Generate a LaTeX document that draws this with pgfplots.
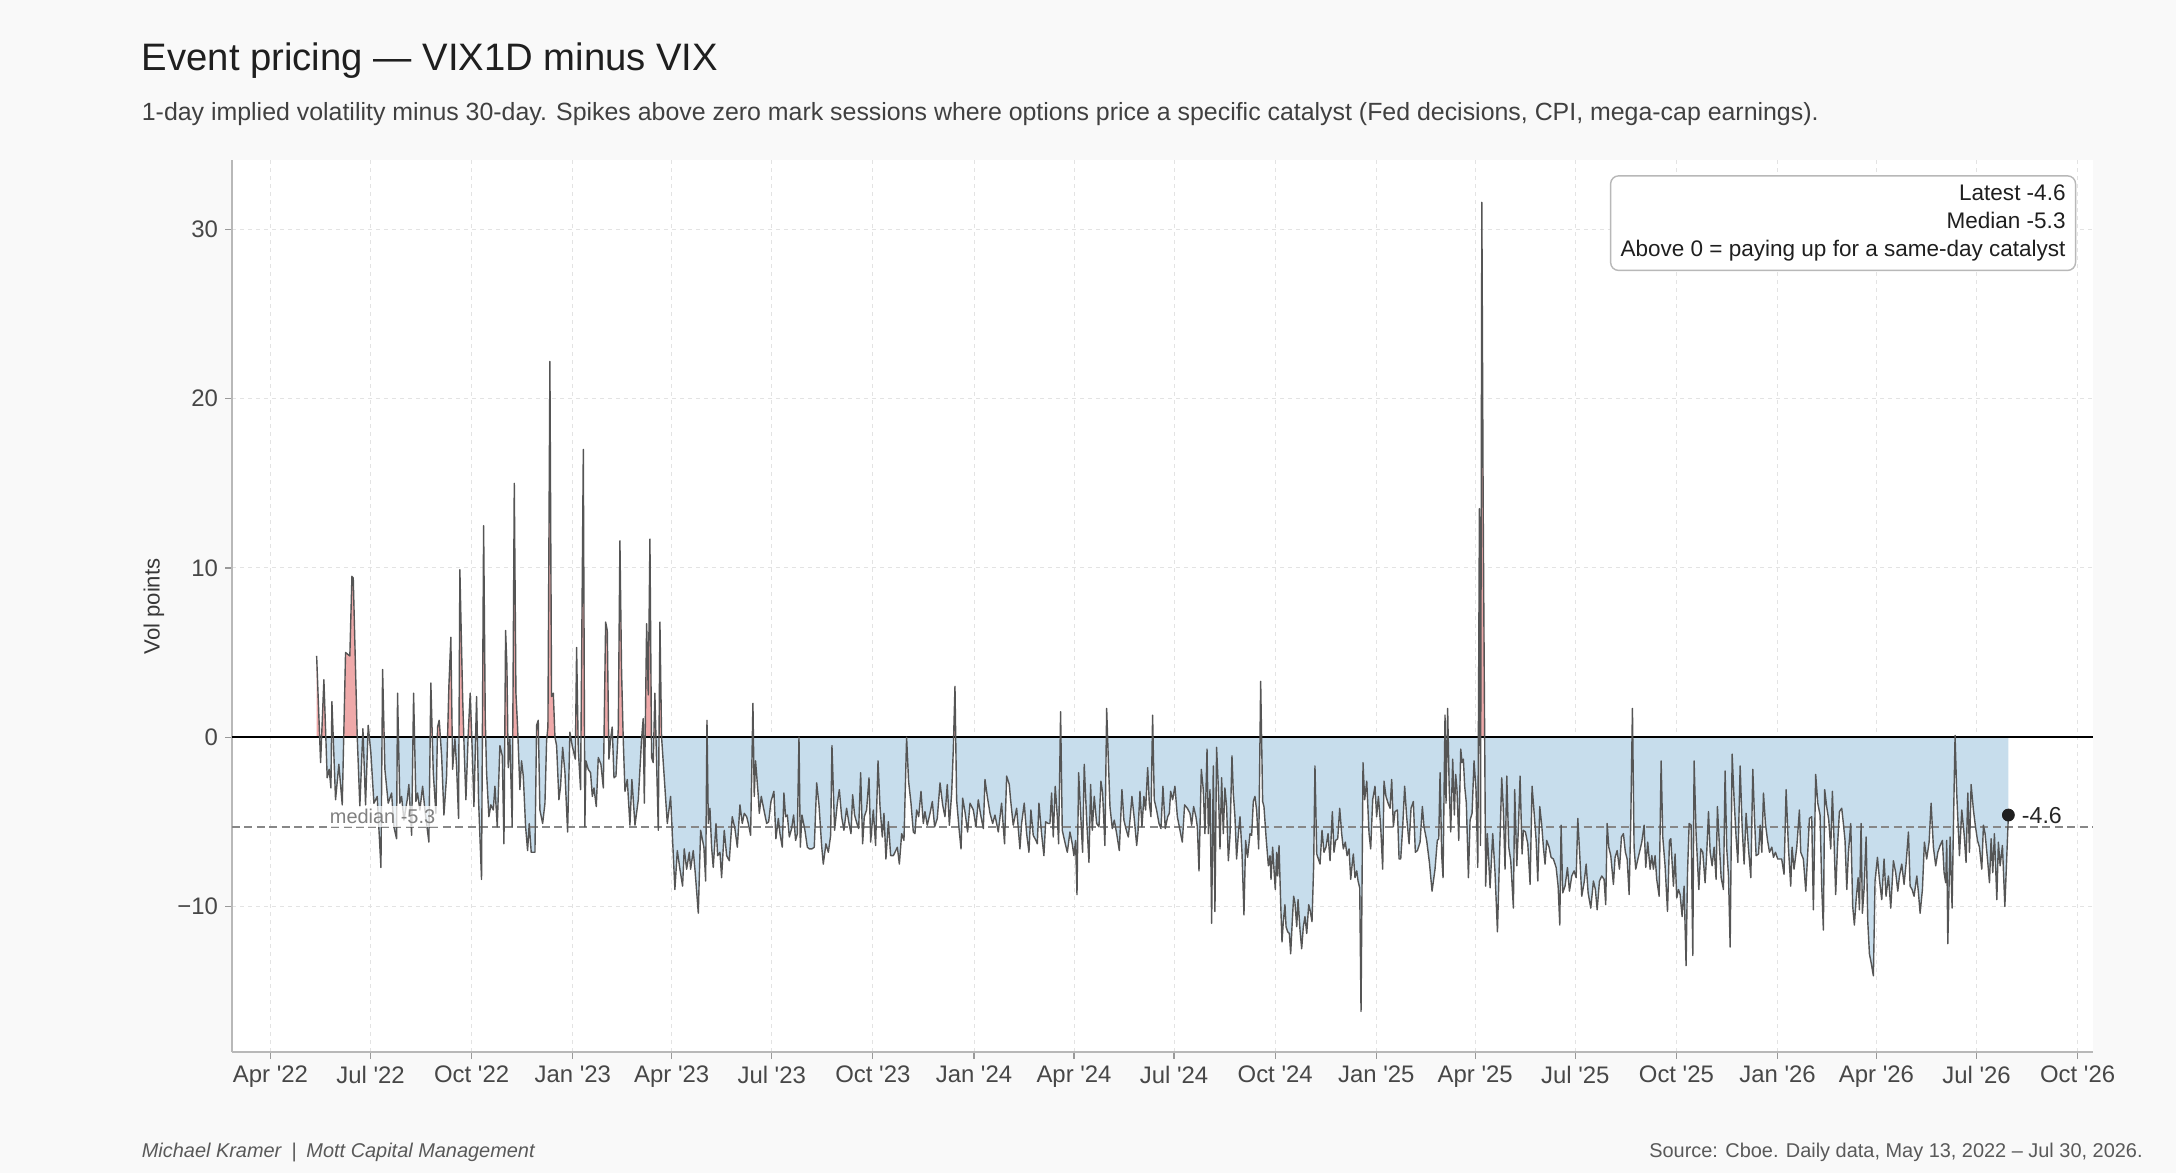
\documentclass[border=0pt]{standalone}
\usepackage{pgfplots}
\pgfplotsset{compat=1.18}
\usepackage{pgfplotstable}
\usepackage{fontspec}
\setmainfont{Liberation Sans}
\newfontfamily\tk{Liberation Sans}
\definecolor{bgc}{HTML}{F9F9F9}
\definecolor{bluefill}{RGB}{199,221,236}
\definecolor{redfill}{RGB}{239,169,169}
\definecolor{linec}{HTML}{555555}
\pagecolor{bgc}

\pgfplotsset{
  base/.style={anchor=south west, width=930.5bp, scale only axis, xmin=-35, xmax=1658},
  xt/.style={xtick={0,91,183,275,365,456,548,640,731,822,914,1006,1096,1187,1279,1371,1461,1552,1644}, ytick={-10,0,10,20,30}},
}

\pgfplotstableread{
x y
42 4.8
45.6 -1.5
48.6 3.4
51.6 -2.4
53.4 -1.9
55.0 -3.0
55.9 2.1
59.2 -3.7
62.2 -1.6
65.3 -4.0
68.3 5.0
72.2 4.8
74.1 9.5
75.3 9.4
78.9 0.1
81.3 -4.1
84.1 0.5
86.5 -4.0
88.9 0.7
91.3 -0.9
94.1 -3.9
97.1 -3.5
100.5 -7.7
102.0 4.0
104.1 -1.9
107.1 -3.9
110.2 -3.3
112.3 -5.3
114.7 -6.0
115.6 2.6
117.7 -3.9
119.3 -3.5
121.4 -4.9
124.4 -3.7
125.9 -2.8
128.4 -5.8
130.2 2.6
132.3 -3.8
133.8 -3.3
135.9 -4.3
138.4 -2.9
140.5 -4.3
144.1 -6.2
145.9 3.2
148.1 -2.1
150.5 -4.5
152.0 0.6
153.5 1.0
155.7 -1.1
157.8 -4.6
160.2 -2.3
162.3 3.0
164.1 5.9
165.7 -1.9
167.8 -0.1
169.3 -1.7
171.1 -4.8
172.3 9.9
174.8 2.4
176.3 -0.9
177.8 -3.7
179.9 0.2
181.7 2.6
183.6 -0.9
185.1 -4.1
187.5 2.4
189.3 -3.7
192.0 -8.4
193.9 12.5
195.4 1.1
196.6 -2.1
198.7 -4.7
200.5 -4.0
202.7 -4.3
204.2 -2.9
206.3 -5.3
208.7 -0.5
210.9 -1.1
212.4 -6.3
213.9 6.3
215.1 4.2
216.3 -1.8
217.8 -0.1
219.9 -5.3
221.8 15.0
223.3 2.6
224.8 0.6
226.9 -3.1
228.4 -1.4
230.0 -2.3
232.1 -5.3
233.9 -6.7
235.4 -5.1
237.2 -6.8
238.4 -6.8
240.6 -6.8
242.1 0.7
243.6 1.0
245.1 -4.3
247.6 -5.1
249.7 -3.9
251.2 -0.2
252.4 0.6
254.2 22.2
255.7 2.4
257.3 2.6
258.8 0.0
260.3 -0.5
262.4 -3.7
263.9 -2.9
265.8 -0.6
267.9 -2.1
270.3 -5.6
272.4 0.3
274.5 -0.5
277.3 -1.3
278.5 5.3
280.0 -0.7
282.1 -3.1
284.6 17.0
286.0 -5.3
287.0 -1.4
289.1 -1.9
291.2 -2.1
292.8 -3.5
294.3 -3.0
296.4 -4.1
298.2 -1.2
300.6 -1.6
302.8 -3.0
304.9 6.8
306.4 6.3
307.9 -1.3
309.4 -0.1
310.9 0.6
312.5 -2.4
314.3 -2.3
316.4 0.5
317.9 11.6
319.4 3.9
320.9 -0.1
322.5 -3.2
324.6 -2.5
327.0 -5.2
328.8 -2.5
331.6 -5.2
334.6 -3.7
337.6 -0.1
339.1 1.1
340.1 -3.9
342.2 6.7
343.7 2.5
345.2 11.7
346.7 -1.2
348.2 -1.5
349.7 2.6
352.8 -5.5
354.3 6.8
355.8 0.0
361.0 -5.1
364.0 -3.5
367.9 -9.0
370.1 -6.7
372.5 -7.8
374.9 -8.8
376.4 -6.6
378.6 -7.8
381.0 -6.8
382.2 -7.8
384.6 -6.7
386.4 -8.0
389.2 -10.4
391.3 -5.5
394.3 -6.5
395.9 -8.5
397.1 1.0
398.3 -5.1
399.8 -4.2
401.3 -6.5
402.8 -7.7
405.3 -5.1
406.8 -7.0
408.9 -6.8
410.4 -8.3
412.8 -5.5
415.0 -7.0
417.4 -7.3
420.1 -4.7
422.5 -5.4
424.7 -6.5
427.1 -4.0
429.2 -5.1
431.0 -4.5
433.2 -4.7
434.7 -5.1
436.8 -5.8
438.9 2.0
440.1 -3.5
441.3 -1.4
443.8 -3.5
444.7 -4.5
446.5 -3.5
448.9 -4.3
451.4 -5.1
453.2 -5.0
455.3 -3.8
458.0 -3.2
459.8 -6.0
462.0 -4.8
463.5 -5.7
465.6 -6.5
467.1 -3.3
468.6 -4.7
470.2 -4.6
472.0 -5.9
474.1 -5.4
475.9 -4.6
477.7 -6.1
479.3 -5.7
480.8 0.0
482.0 -6.5
483.5 -4.6
486.2 -5.5
488.4 -6.5
490.2 -6.6
492.6 -6.6
494.7 -6.5
496.9 -2.7
499.0 -4.0
501.4 -6.4
502.9 -7.5
505.3 -6.3
507.5 -6.8
509.6 -5.8
510.8 -0.5
513.2 -5.5
515.7 -3.9
517.5 -3.1
519.6 -4.7
521.7 -5.5
524.1 -4.2
526.3 -5.1
528.1 -5.7
529.6 -3.4
531.4 -4.6
533.5 -5.1
535.1 -5.4
536.9 -2.1
538.7 -6.3
540.2 -4.7
542.3 -4.3
544.5 -2.4
546.0 -6.2
548.4 -4.3
550.5 -6.4
552.7 -1.4
554.5 -4.1
556.6 -5.9
558.1 -4.5
559.9 -7.2
562.1 -5.0
564.2 -7.0
566.6 -7.0
568.1 -6.8
570.3 -6.5
572.1 -7.5
574.2 -5.7
576.3 -6.1
578.7 0.0
580.5 -2.6
582.7 -3.9
584.8 -5.6
586.3 -5.7
587.8 -4.3
589.7 -4.7
591.8 -3.2
593.9 -5.1
595.4 -4.4
597.5 -5.2
600.0 -4.5
602.1 -3.8
604.2 -5.3
606.6 -4.8
609.1 -2.7
611.5 -4.0
613.6 -4.7
615.7 -2.8
617.6 -5.2
619.7 -3.3
621.2 -0.7
622.7 3.0
624.2 -3.7
626.4 -5.4
628.2 -6.6
629.7 -3.6
631.8 -4.4
634.2 -5.6
636.4 -3.9
639.4 -4.3
641.8 -5.3
643.9 -3.7
646.1 -4.6
648.5 -5.4
650.0 -2.5
652.1 -3.5
654.6 -4.5
657.0 -5.1
659.1 -4.6
662.1 -5.6
665.1 -3.9
667.8 -6.3
669.7 -2.3
672.1 -2.8
673.3 -3.7
675.7 -5.2
678.8 -4.2
681.8 -6.6
683.3 -5.1
685.7 -3.9
687.9 -5.7
690.0 -6.8
691.8 -4.3
693.9 -5.8
696.4 -6.1
697.6 -6.3
699.1 -3.9
701.5 -5.7
703.6 -7.0
705.2 -5.0
707.6 -5.1
709.1 -5.1
710.6 -3.3
712.1 -5.9
713.9 -2.9
715.8 -4.7
717.0 -6.3
718.8 1.5
720.3 -5.5
722.7 -6.2
724.9 -6.8
727.3 -5.6
729.4 -6.3
730.9 -7.0
732.4 -6.1
733.7 -9.3
735.2 -2.1
737.3 -4.9
738.8 -6.8
740.3 -1.6
742.5 -4.9
744.6 -7.4
746.1 -2.8
747.6 -5.5
749.4 -3.5
751.6 -5.1
753.7 -5.3
755.5 -2.6
757.0 -3.3
759.1 -6.4
760.7 1.7
762.2 -1.3
763.7 -4.1
765.8 -5.4
767.6 -4.9
769.8 -5.7
772.2 -6.7
774.6 -3.1
776.4 -4.9
778.2 -5.4
780.4 -5.9
781.9 -4.9
783.7 -3.5
785.8 -4.8
788.0 -6.4
789.2 -5.6
791.0 -3.2
792.8 -5.3
794.6 -3.5
796.1 -4.3
798.0 -1.8
799.5 -3.9
801.0 -4.7
802.5 1.3
804.0 -3.7
806.1 -4.3
808.3 -5.1
810.1 -5.4
811.9 -2.9
814.0 -5.4
816.2 -4.7
817.7 -4.5
818.9 -3.2
820.7 -3.7
822.8 -2.9
825.0 -4.7
827.4 -5.5
829.5 -6.2
831.6 -4.0
834.1 -4.2
836.5 -4.5
838.0 -5.2
839.8 -4.1
841.9 -4.7
843.2 -5.3
844.7 -7.9
846.8 -1.9
848.6 -3.1
850.1 -5.7
852.0 -0.7
853.2 -5.7
854.7 -3.1
856.2 -11.0
857.7 -1.7
859.2 -10.3
860.7 -0.6
862.3 -3.0
863.8 -6.6
865.3 -2.4
866.8 -5.7
868.3 -3.0
869.8 -4.1
871.4 -7.3
872.9 -5.8
874.7 -1.1
875.9 -3.3
877.4 -4.7
878.9 -7.2
880.5 -5.7
882.0 -4.7
883.8 -6.8
885.6 -10.5
887.1 -6.1
888.9 -7.1
891.1 -5.7
892.6 -5.8
894.1 -3.8
895.6 -3.5
897.1 -4.3
899.0 -6.6
900.8 3.3
902.6 -3.8
903.8 -4.1
905.7 -5.9
907.8 -7.6
909.3 -7.0
910.2 -8.4
911.7 -6.5
912.9 -7.8
914.1 -9.0
915.4 -6.8
916.3 -8.2
917.5 -6.4
919.0 -9.8
920.2 -12.1
921.4 -10.9
922.9 -9.9
923.9 -11.2
925.4 -11.5
926.9 -11.6
928.1 -12.8
929.6 -10.8
930.8 -9.4
932.0 -9.8
933.6 -11.2
934.8 -9.6
936.6 -11.4
938.1 -12.5
939.6 -11.2
941.1 -10.6
942.7 -11.6
944.5 -9.9
945.7 -10.2
947.5 -10.9
949.0 -7.6
950.2 -1.7
951.8 -6.9
953.3 -7.2
954.8 -7.5
956.6 -5.5
958.4 -6.8
960.2 -6.5
962.1 -5.7
963.9 -7.3
966.0 -4.4
967.5 -6.8
969.0 -6.1
970.9 -6.0
972.7 -4.2
974.5 -5.7
976.0 -6.6
977.8 -6.2
979.4 -7.0
981.2 -6.6
982.7 -8.4
983.9 -7.6
985.1 -6.9
986.6 -8.3
988.2 -7.9
989.4 -8.5
990.9 -8.9
992.1 -16.2
993.9 -1.5
995.4 -3.7
997.3 -2.6
999.4 -5.7
1000.9 -6.6
1002.7 -3.7
1004.8 -2.9
1006.3 -4.7
1007.9 -3.5
1010.0 -5.3
1011.8 -7.8
1013.0 -2.6
1014.8 -3.5
1016.7 -3.9
1018.5 -4.2
1020.0 -2.5
1021.5 -5.3
1023.0 -4.4
1025.2 -4.3
1026.7 -7.2
1028.2 -7.2
1030.0 -5.3
1031.8 -2.9
1033.6 -4.7
1035.8 -6.3
1037.6 -4.2
1039.7 -3.8
1041.5 -6.8
1043.4 -6.7
1045.8 -6.2
1047.9 -4.1
1049.4 -5.3
1051.8 -6.1
1054.3 -7.4
1056.7 -9.1
1059.4 -7.8
1061.5 -6.1
1062.8 -6.0
1064.0 -2.1
1065.5 -7.0
1066.7 -8.3
1068.5 1.3
1069.4 -3.9
1070.9 1.7
1072.2 -2.7
1073.7 -5.6
1075.5 -1.3
1077.0 -4.6
1078.2 -2.2
1079.4 -3.1
1081.0 -6.1
1082.8 -0.7
1084.0 -1.5
1085.2 -1.3
1086.4 -2.9
1087.9 -3.9
1089.8 -8.3
1091.3 -4.9
1093.1 -4.5
1094.9 -1.4
1096.7 -3.1
1098.3 -7.7
1099.8 13.5
1100.8 -6.4
1102.0 31.6
1103.2 13.9
1104.2 3.6
1105.5 -8.8
1107.0 -5.7
1109.5 -8.9
1111.9 -5.7
1114.0 -8.0
1116.2 -11.5
1118.0 -7.2
1120.1 -2.4
1121.6 -4.3
1123.1 -7.8
1124.7 -2.3
1126.5 -6.5
1128.3 -7.3
1130.7 -10.1
1131.9 -3.1
1133.8 -7.6
1135.3 -5.3
1136.8 -2.3
1138.6 -6.9
1139.8 -5.5
1141.6 -5.6
1143.8 -6.3
1145.9 -8.7
1147.7 -2.9
1149.5 -4.4
1151.4 -6.1
1152.9 -8.5
1154.7 -4.1
1156.5 -5.2
1158.0 -6.5
1159.5 -7.5
1161.0 -6.1
1163.2 -6.5
1165.0 -7.1
1167.1 -7.2
1169.6 -7.7
1171.4 -8.8
1172.9 -11.1
1174.1 -5.2
1175.6 -9.2
1177.7 -8.8
1179.9 -7.7
1181.7 -9.1
1183.8 -8.2
1185.9 -7.9
1187.8 -8.3
1189.3 -4.8
1191.1 -7.0
1192.9 -9.4
1195.0 -8.6
1196.9 -7.5
1198.7 -9.2
1201.1 -10.1
1203.5 -8.5
1205.3 -9.0
1206.9 -10.2
1209.0 -8.5
1211.1 -8.2
1213.2 -8.4
1214.7 -9.9
1216.0 -5.1
1217.5 -6.5
1219.3 -7.0
1221.7 -8.7
1223.2 -7.1
1225.1 -6.7
1227.2 -7.8
1229.0 -5.9
1230.8 -5.7
1232.6 -6.8
1234.2 -7.2
1236.0 -9.3
1237.5 -4.9
1239.0 1.7
1240.5 -6.5
1242.0 -7.8
1243.6 -7.3
1245.4 -6.8
1247.5 -6.2
1249.6 -5.2
1251.1 -7.7
1252.9 -6.2
1255.1 -7.8
1256.6 -7.0
1258.1 -7.8
1259.6 -7.0
1261.1 -8.4
1263.3 -9.4
1265.1 -1.4
1266.6 -5.9
1268.7 -7.6
1270.9 -10.3
1272.7 -6.1
1273.9 -6.0
1276.3 -8.8
1277.8 -6.9
1279.3 -9.5
1280.9 -9.0
1282.4 -9.3
1284.2 -10.6
1286.0 -8.8
1287.8 -13.5
1289.1 -8.0
1290.6 -5.1
1292.4 -5.2
1293.9 -12.9
1295.1 -1.4
1296.9 -5.7
1299.4 -9.0
1301.2 -6.6
1303.0 -6.8
1305.1 -8.6
1306.6 -6.8
1308.2 -4.4
1309.7 -6.8
1311.5 -7.6
1313.3 -6.5
1315.1 -8.4
1316.3 -4.1
1318.2 -6.5
1319.7 -8.3
1321.8 -9.0
1323.3 -2.0
1324.8 -6.6
1326.4 -8.2
1327.9 -12.4
1329.7 -1.0
1331.5 -3.7
1333.3 -5.9
1334.9 -7.4
1337.0 -1.7
1338.8 -5.3
1340.6 -7.5
1342.4 -4.5
1344.6 -6.6
1346.7 -8.3
1348.5 -1.9
1350.0 -4.7
1351.5 -7.0
1353.7 -6.9
1355.2 -5.2
1356.7 -6.8
1358.2 -3.3
1360.0 -5.1
1361.9 -6.1
1363.7 -6.8
1365.8 -6.5
1367.3 -7.1
1369.1 -6.8
1371.2 -7.2
1374.8 -7.2
1376.9 -8.1
1378.8 -3.1
1380.9 -6.5
1383.0 -8.8
1384.2 -6.5
1386.0 -7.8
1388.5 -6.5
1390.9 -4.3
1392.1 -6.8
1394.5 -7.2
1396.7 -9.1
1398.5 -6.8
1400.0 -4.8
1402.1 -4.7
1403.6 -10.2
1405.7 -2.2
1407.6 -3.9
1409.7 -4.6
1411.2 -8.8
1412.7 -11.4
1413.9 -3.1
1415.7 -4.1
1417.6 -4.9
1419.4 -6.6
1420.9 -3.2
1422.4 -6.1
1423.9 -9.3
1425.5 -6.5
1427.3 -4.4
1429.4 -4.2
1430.9 -5.1
1432.4 -6.1
1434.0 -9.0
1435.5 -6.8
1437.6 -5.1
1439.4 -10.0
1440.9 -11.1
1442.5 -9.6
1444.3 -8.3
1445.5 -10.2
1447.0 -5.1
1448.2 -10.4
1449.7 -9.0
1451.6 -5.9
1453.1 -10.9
1454.6 -12.8
1456.1 -13.3
1458.2 -14.1
1459.7 -8.5
1461.9 -7.1
1463.7 -8.4
1465.8 -9.6
1467.9 -7.2
1469.7 -9.4
1471.9 -8.2
1474.0 -10.1
1476.4 -7.3
1478.5 -8.0
1480.4 -9.1
1481.9 -8.2
1484.0 -7.5
1486.1 -8.7
1487.9 -7.5
1490.1 -5.6
1491.6 -8.8
1493.4 -9.0
1495.2 -9.4
1497.7 -8.2
1499.2 -9.2
1500.7 -10.4
1502.8 -9.0
1504.6 -6.2
1506.7 -7.2
1508.9 -6.2
1510.7 -3.9
1512.8 -6.5
1514.9 -7.6
1516.8 -6.8
1518.9 -6.4
1521.0 -6.1
1522.5 -8.0
1524.0 -8.6
1524.9 -6.1
1525.9 -12.2
1528.0 -5.9
1529.8 -10.1
1531.0 -5.3
1532.5 0.1
1534.0 -3.3
1536.5 -7.0
1538.6 -4.3
1540.7 -5.7
1542.5 -7.4
1544.1 -3.3
1545.6 -6.8
1547.1 -2.8
1549.2 -4.3
1550.7 -5.1
1552.9 -6.1
1554.7 -6.5
1556.8 -7.8
1558.3 -5.2
1559.8 -5.7
1562.0 -7.2
1563.8 -8.6
1565.3 -6.0
1566.8 -8.0
1568.3 -5.7
1570.5 -9.6
1571.9 -6.2
1573.5 -7.6
1575.6 -6.4
1577.8 -10.0
1581.0 -4.6
}\series

\begin{document}
\begin{tikzpicture}
\path (0,0) rectangle (1088bp,586.5bp);
% background and grid
\begin{axis}[base, xt, at={(116bp,60.5bp)}, height=446bp, ymin=-18.6, ymax=34.1,
  axis background/.style={fill=white},
  axis line style={draw=none}, tick style={draw=none},
  xticklabels={}, yticklabels={},
  grid=major,
  grid style={draw=black!11, dash pattern=on 2bp off 2bp, line width=0.45bp}]
\addplot[draw=none] coordinates {(0,0)};
\end{axis}
% positive (red) area
\begin{axis}[base, at={(116bp,217.91bp)}, height=288.59bp, ymin=0, ymax=34.1, hide axis]
\addplot[fill=redfill, draw=none] table[x=x,y=y] {\series} \closedcycle;
\end{axis}
% negative (blue) area
\begin{axis}[base, at={(116bp,60.5bp)}, height=157.41bp, ymin=-18.6, ymax=0, hide axis]
\addplot[fill=bluefill, draw=none] table[x=x,y=y] {\series} \closedcycle;
\end{axis}
% main
\begin{axis}[base, xt, at={(116bp,60.5bp)}, height=446bp, ymin=-18.6, ymax=34.1,
  axis x line*=bottom, axis y line*=left,
  axis line style={draw=black!28, line width=0.65bp},
  tick align=outside, major tick length=3.5bp,
  tick style={draw=black!40, line width=0.6bp},
  xticklabels={{\tk Apr '22},{\tk Jul '22},{\tk Oct '22},{\tk Jan '23},{\tk Apr '23},{\tk Jul '23},{\tk Oct '23},{\tk Jan '24},{\tk Apr '24},{\tk Jul '24},{\tk Oct '24},{\tk Jan '25},{\tk Apr '25},{\tk Jul '25},{\tk Oct '25},{\tk Jan '26},{\tk Apr '26},{\tk Jul '26},{\tk Oct '26}},
  yticklabels={−10,0,10,20,30},
  tick label style={font=\fontsize{12}{14}\selectfont, text=black!72},
  clip=false,
]
\addplot[black, line width=1bp] coordinates {(-35,0) (1658,0)};
\addplot[color=black!47, line width=0.7bp, dash pattern=on 4bp off 2.2bp] coordinates {(-35,-5.3) (1658,-5.3)};
\addplot[linec, line width=0.7bp, line join=round] table[x=x,y=y] {\series};
\addplot[only marks, mark=*, mark size=3bp, color=black!88] coordinates {(1581,-4.6)};
\node[anchor=west, inner sep=0pt, font=\fontsize{11.6}{13}\selectfont, text=black!85] at (axis cs:1593,-4.65) {-4.6};
\node[fill=white, fill opacity=0.75, text opacity=1, text=black!50, inner sep=1.5bp, font=\fontsize{10}{12}\selectfont] at (axis cs:102,-4.7) {median -5.3};
\node[anchor=north east, draw=black!28, line width=0.7bp, rounded corners=4bp, fill=white, align=right, inner xsep=5bp, inner ysep=4.6bp, font=\fontsize{11.3}{14}\selectfont, text=black!88] at (rel axis cs:0.991,0.983) {Latest -4.6\\Median -5.3\\Above 0 = paying up for a same-day catalyst};
\end{axis}
\node[anchor=base west, inner sep=0pt, font=\fontsize{19.2}{22}\selectfont, text=black!88] at (70.75bp,551bp) {Event pricing — VIX1D minus VIX};
\node[anchor=base west, inner sep=0pt, font=\fontsize{12.5}{15}\selectfont, text=black!75] at (70.75bp,526bp) {1-day implied volatility minus 30-day. Spikes above zero mark sessions where options price a specific catalyst (Fed decisions, CPI, mega-cap earnings).};
\node[rotate=90, inner sep=0pt, font=\fontsize{11.1}{13}\selectfont, text=black!78] at (77bp,283.25bp) {Vol points};
\node[anchor=base west, inner sep=0pt, font=\itshape\fontsize{10}{12}\selectfont, text=black!65] at (70.75bp,8bp) {Michael Kramer\enspace|\enspace Mott Capital Management};
\node[anchor=base east, inner sep=0pt, font=\fontsize{10}{12}\selectfont, text=black!65] at (1071.5bp,8bp) {Source: Cboe. Daily data, May 13, 2022 – Jul 30, 2026.};
\end{tikzpicture}
\end{document}
